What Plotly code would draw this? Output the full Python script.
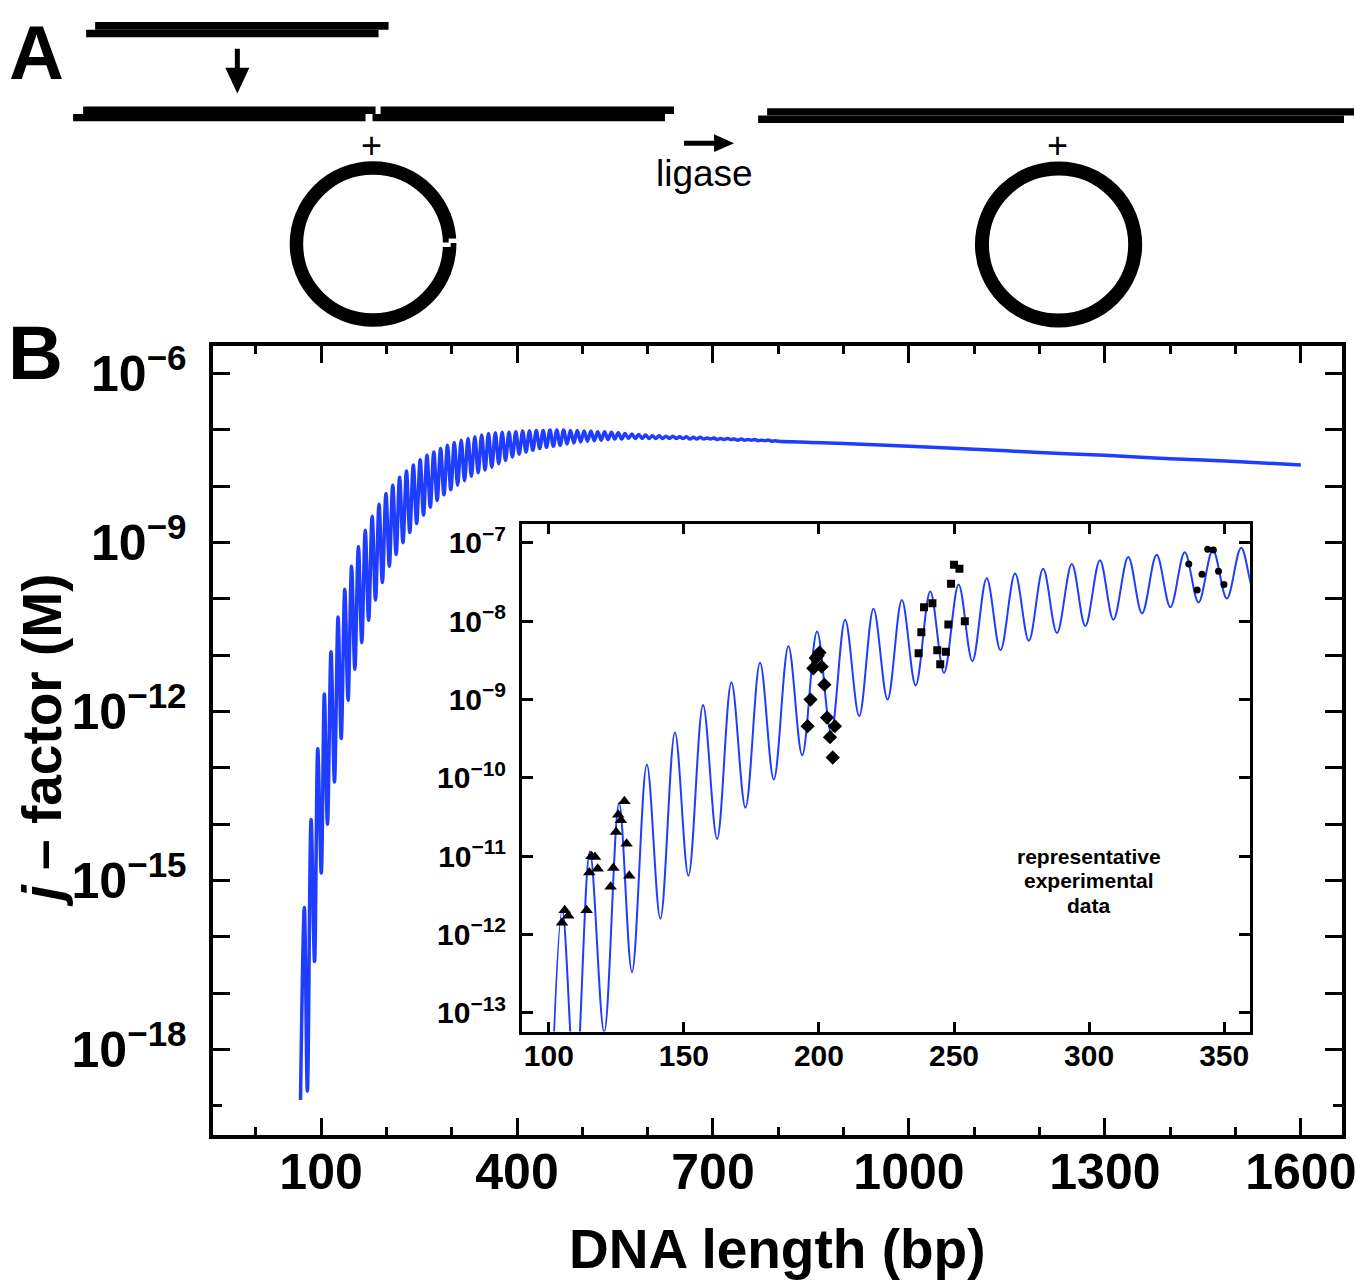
import plotly.graph_objects as go

W, H = 1356, 1283          # layout grid used for all positions below
FIG_W, FIG_H = 1372, 1283  # size of the rendered figure
Y_SHIFT = 3                # small upward nudge of the whole layout
BLUE = "#1f3dff"
FONT = "Liberation Sans"

# ---- computed j-factor curve: maxima and minima of the helical phasing (bp, log10 M) ----
peak_bp = [74.4, 84.7, 94.9, 105.0, 115.2, 126.0, 136.3, 146.7, 157.1, 167.6,
           178.2, 188.7, 199.3, 209.7, 220.2, 230.7, 241.2, 251.7, 262.1, 272.6,
           283.0, 293.6, 304.0, 314.5, 325.0, 335.4, 345.8, 356.3, 366.8, 377.2,
           387.7, 398.1, 408.6, 419.0, 429.5, 440.0, 450.4, 460.9, 471.3, 481.8,
           492.2, 502.7, 513.1, 523.6, 534.0, 544.5, 555.0, 565.4, 575.9, 586.3,
           596.8, 607.2, 617.7, 628.1, 638.6, 649.0, 659.5, 670.0, 680.4, 690.9,
           701.3, 711.8, 722.2, 732.7, 743.1, 753.6, 764.0, 774.5, 785.0, 795.4]
peak_logj = [-15.48, -13.92, -12.66, -11.69, -10.94, -10.32, -9.83, -9.42, -9.07, -8.78,
             -8.53, -8.32, -8.13, -7.98, -7.84, -7.73, -7.62, -7.53, -7.45, -7.39,
             -7.33, -7.27, -7.22, -7.18, -7.15, -7.12, -7.09, -7.06, -7.05, -7.04,
             -7.04, -7.03, -7.02, -7.02, -7.01, -7.01, -7.00, -7.00, -7.00, -7.01,
             -7.01, -7.02, -7.02, -7.03, -7.03, -7.04, -7.05, -7.06, -7.07, -7.08,
             -7.09, -7.10, -7.10, -7.11, -7.11, -7.12, -7.12, -7.13, -7.13, -7.14,
             -7.14, -7.15, -7.15, -7.16, -7.16, -7.17, -7.17, -7.18, -7.18, -7.19]

trough_bp = [68.5, 79.0, 90.0, 100.3, 109.8, 120.5, 130.8, 141.3, 151.7, 162.3,
             172.8, 183.3, 193.8, 204.5, 214.9, 225.4, 235.8, 246.3, 256.8, 267.2,
             277.7, 288.1, 298.6, 309.0, 319.6, 330.1, 340.5, 351.0, 361.4, 372.0,
             382.4, 392.9, 403.3, 413.8, 424.2, 434.7, 445.1, 455.6, 466.0, 476.5,
             487.0, 497.4, 507.9, 518.3, 528.8, 539.2, 549.7, 560.1, 570.6, 581.0,
             591.5, 602.0, 612.4, 622.9, 633.3, 643.8, 654.2, 664.7, 675.1, 685.6,
             696.0, 706.5, 717.0, 727.4, 737.9, 748.3, 758.8, 769.2, 779.7, 790.1,
             800.6]
trough_logj = [-18.90, -18.74, -16.44, -14.87, -14.00, -13.25, -12.48, -11.80, -11.25, -10.78,
               -10.38, -10.02, -9.71, -9.42, -9.21, -9.00, -8.82, -8.66, -8.51, -8.37,
               -8.25, -8.15, -8.06, -7.98, -7.90, -7.82, -7.76, -7.71, -7.66, -7.60,
               -7.54, -7.48, -7.43, -7.39, -7.36, -7.33, -7.31, -7.29, -7.27, -7.25,
               -7.23, -7.21, -7.20, -7.19, -7.18, -7.17, -7.16, -7.16, -7.15, -7.15,
               -7.15, -7.15, -7.15, -7.15, -7.15, -7.15, -7.15, -7.16, -7.16, -7.16,
               -7.16, -7.17, -7.17, -7.17, -7.18, -7.18, -7.18, -7.19, -7.19, -7.20,
               -7.20]

# long-length part of the curve, where the phasing has died out
tail_bp = [850, 900, 1000, 1100, 1200, 1300, 1400, 1500, 1600]
tail_logj = [-7.22, -7.24, -7.29, -7.34, -7.40, -7.45, -7.51, -7.56, -7.62]

# the inset curve was computed from 100 bp upwards
inset_min_bp = 100

# representative experimental data (bp, log10 M)
tri_bp = [104.9, 105.9, 107.2, 114.0, 115.0, 115.8, 117.1, 118.1,
          122.9, 123.9, 124.9, 125.7, 126.7, 128.0, 128.8, 129.8]
tri_logj = [-11.85, -11.69, -11.76, -11.69, -11.21, -11.00, -11.01, -11.16,
            -11.39, -11.15, -10.69, -10.47, -10.54, -10.30, -10.84, -11.25]
dia_bp = [195.8, 196.9, 197.9, 198.8, 199.5, 200.2, 201.0, 202.0, 203.0, 204.1, 205.1, 205.9]
dia_logj = [-9.34, -9.00, -8.60, -8.47, -8.44, -8.40, -8.58, -8.81, -9.23, -9.48, -9.74, -9.34]
sq_bp = [236.9, 237.9, 238.9, 242.0, 243.8, 244.9, 247.0, 247.9, 248.9, 250.0, 252.0, 254.0]
sq_logj = [-8.41, -8.14, -7.82, -7.77, -8.37, -8.55, -8.39, -8.04, -7.52, -7.28, -7.33, -8.00]
circ_bp = [336.9, 340.0, 341.8, 343.9, 346.0, 347.9, 349.9]
circ_logj = [-7.27, -7.60, -7.40, -7.08, -7.09, -7.36, -7.53]

# axis ticks
main_x_ticks = [100, 400, 700, 1000, 1300, 1600]
main_y_exp = list(range(-6, -19, -1))
main_y_labelled = [-6, -9, -12, -15, -18]
inset_x_ticks = [100, 150, 200, 250, 300, 350]
inset_y_exp = list(range(-7, -14, -1))


def px(x):
    return x / W


def py(y):
    return 1 - (y - Y_SHIFT) / H


def pow_label(e):
    return f"10<sup>\u2212{abs(e)}</sup>"


pts = sorted(zip(peak_bp + trough_bp + tail_bp, peak_logj + trough_logj + tail_logj))
curve_bp = [p[0] for p in pts]
curve_j = [10 ** p[1] for p in pts]
inset_pts = [p for p in pts if p[0] >= inset_min_bp]
inset_bp = [p[0] for p in inset_pts]
inset_j = [10 ** p[1] for p in inset_pts]

fig = go.Figure()
fig.add_trace(go.Scatter(x=curve_bp, y=curve_j, mode="lines", xaxis="x", yaxis="y",
                         line=dict(color=BLUE, width=3.5, shape="spline")))
fig.add_trace(go.Scatter(x=inset_bp, y=inset_j, mode="lines", xaxis="x2", yaxis="y2",
                         line=dict(color=BLUE, width=2, shape="spline")))

for xs, ys, sym, size in [(tri_bp, tri_logj, "triangle-up", 11),
                          (dia_bp, dia_logj, "diamond", 11),
                          (sq_bp, sq_logj, "square", 8),
                          (circ_bp, circ_logj, "circle", 7)]:
    fig.add_trace(go.Scatter(x=xs, y=[10 ** v for v in ys], mode="markers",
                             xaxis="x2", yaxis="y2",
                             marker=dict(symbol=sym, size=size, color="black")))

axis_common = dict(showline=True, linecolor="black", mirror="ticks", showgrid=False,
                   zeroline=False, ticks="inside", tickcolor="black")

fig.update_layout(
    width=FIG_W, height=FIG_H, autosize=False, margin=dict(l=0, r=0, t=0, b=0),
    paper_bgcolor="white", plot_bgcolor="rgba(0,0,0,0)", showlegend=False,
    xaxis=dict(axis_common, domain=[px(213), px(1340)], range=[-65, 1663], anchor="y",
               tickmode="array", tickvals=main_x_ticks, ticklen=17, tickwidth=3, linewidth=3.5,
               tickfont=dict(family=FONT, size=50, color="black", weight="bold"),
               ticklabelstandoff=-10,
               minor=dict(tick0=0, dtick=100, ticks="inside", ticklen=8, tickwidth=3,
                          tickcolor="black")),
    yaxis=dict(axis_common, type="log", domain=[py(1137), py(343)], range=[-19.52, -5.506],
               anchor="x", tickmode="array",
               tickvals=[10.0 ** e for e in main_y_exp],
               ticktext=[pow_label(e) if e in main_y_labelled else "" for e in main_y_exp],
               ticklen=17, tickwidth=3, linewidth=3.5,
               tickfont=dict(family=FONT, size=50, color="black", weight="bold"),
               ticklabelstandoff=13,
               minor=dict(tickvals=[1e-19], ticks="inside", ticklen=9, tickwidth=3,
                          tickcolor="black")),
    xaxis2=dict(axis_common, domain=[px(521), px(1248)], range=[90, 359.5], anchor="y2",
                tickmode="array", tickvals=inset_x_ticks, ticklen=10, tickwidth=2.5,
                linewidth=2.5, ticklabelstandoff=-4,
                tickfont=dict(family=FONT, size=30, color="black", weight="bold")),
    yaxis2=dict(axis_common, type="log", domain=[py(1033), py(522)], range=[-13.24, -6.755],
                anchor="x2", tickmode="array",
                tickvals=[10.0 ** e for e in inset_y_exp],
                ticktext=[pow_label(e) for e in inset_y_exp],
                ticklen=11, tickwidth=2.5, linewidth=2.5, ticklabelstandoff=7,
                tickfont=dict(family=FONT, size=30, color="black", weight="bold")),
)

# ---- panel A: ligation scheme ----
shapes = []


def bar(x0, y0, x1, y1, color="black"):
    shapes.append(dict(type="rect", xref="paper", yref="paper",
                       x0=px(x0), x1=px(x1), y0=py(y1), y1=py(y0),
                       fillcolor=color, line=dict(width=0)))


def poly(points):
    d = "M " + " L ".join(f"{px(a):.5f},{py(b):.5f}" for a, b in points) + " Z"
    shapes.append(dict(type="path", xref="paper", yref="paper", path=d,
                       fillcolor="black", line=dict(width=0)))


def ring(cx, cy, r, width):
    shapes.append(dict(type="circle", xref="paper", yref="paper",
                       x0=px(cx - r), x1=px(cx + r), y0=py(cy + r), y1=py(cy - r),
                       line=dict(color="black", width=width), fillcolor="rgba(0,0,0,0)"))


# linear fragment with cohesive ends
bar(95, 17, 388, 25)
bar(86, 25, 378, 32.5)
# downward arrow
bar(234.5, 44, 239.5, 68)
poly([(225, 63), (249, 63), (237, 89)])
# two fragments annealed end to end
bar(83, 102, 375, 109.7)
bar(73, 109.7, 365, 117)
bar(380, 102, 673, 109.7)
bar(372, 109.7, 664, 117)
# nicked circle
ring(372.5, 240.5, 76.5, 13.5)
bar(448, 235, 459, 239.5, "white")
bar(439, 239, 450, 243.5, "white")
# ligase arrow
bar(683, 136.5, 716, 141.5)
poly([(713, 130), (733, 139), (713, 148)])
# ligated products
bar(766, 104, 1352, 111.3)
bar(757, 111.3, 1342, 118.7)
ring(1057, 241, 76.5, 14)

fig.update_layout(shapes=shapes)


def note(text, x, y, size, bold=False, angle=0, xanchor="center", yanchor="middle"):
    fig.add_annotation(text=text, x=px(x), y=min(py(y), 1.0), xref="paper", yref="paper",
                       showarrow=False, textangle=angle, xanchor=xanchor, yanchor=yanchor,
                       font=dict(family=FONT, size=size, color="black",
                                 weight="bold" if bold else "normal"))


# panel letter "A" hangs from the top edge of the figure
note("A", 36, 0, 76, bold=True, yanchor="top")
note("B", 35, 350, 76, bold=True)
note("+", 371, 141, 36)
note("+", 1056, 141, 36)
note("ligase", 703, 170, 37)
note("DNA length (bp)", 776, 1252, 55, bold=True)
note("<i>j</i> \u2013 factor (M)", 42, 740, 55, bold=True, angle=-90)
note("representative", 1087, 857, 21, bold=True)
note("experimental", 1087, 881, 21, bold=True)
note("data", 1087, 906, 21, bold=True)

fig.write_html("out.html")
